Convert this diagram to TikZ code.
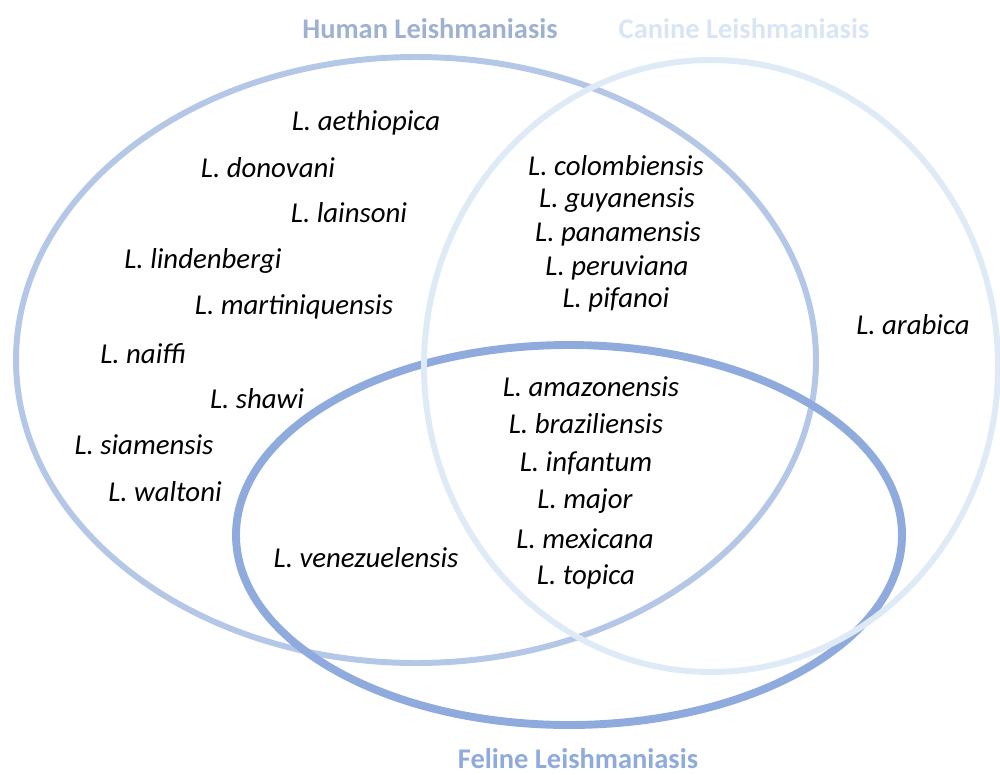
\documentclass[tikz,border=0pt]{standalone}
\usepackage{fontspec}
\setmainfont{Carlito}
\definecolor{humancol}{HTML}{B4C7E7}
\definecolor{caninecol}{HTML}{DEEBF7}
\definecolor{felinecol}{HTML}{8FAADC}
\begin{document}
\begin{tikzpicture}[x=0.02cm, y=-0.02cm, species/.style={font=\fontsize{16.4}{19}\selectfont\itshape,inner sep=0pt}, title/.style={font=\fontsize{16.2}{19}\selectfont\bfseries,inner sep=0pt}]
\useasboundingbox (0,0) rectangle (1000,774);
\begin{scope}
\draw[humancol, line width=3.4pt]  (416,360) ellipse [x radius=400, y radius=303];
\draw[felinecol, line width=4.5pt] (569,535) ellipse [x radius=333, y radius=190];
\draw[caninecol, line width=3.4pt] (711,366) ellipse [x radius=287, y radius=306];
\end{scope}
\begin{scope}
\node[title, text=humancol!90!black!80!felinecol] (human) at (430,29) {Human Leishmaniasis};
\node[title, text=caninecol!85!humancol] (canine) at (744,29) {Canine Leishmaniasis};
\node[title, text=felinecol] (feline) at (578,759) {Feline Leishmaniasis};
\end{scope}
\begin{scope}[every node/.style={species}]
% human only
\node (aeth) at (366,123) {L. aethiopica};
\node (dono) at (268,168) {L. donovani};
\node (lain) at (349,213) {L. lainsoni};
\node (lind) at (203,261) {L. lindenbergi};
\node (mart) at (294,307) {L. martiniquensis};
\node (naif) at (143,354) {L. naiffi};
\node (shaw) at (257,399) {L. shawi};
\node (siam) at (144,445) {L. siamensis};
\node (walt) at (165,492) {L. waltoni};
% human and canine
\node (colo) at (616,166) {L. colombiensis};
\node (guya) at (617,200) {L. guyanensis};
\node (pana) at (618,234) {L. panamensis};
\node (peru) at (617,268) {L. peruviana};
\node (pifa) at (616,300) {L. pifanoi};
% canine only
\node (arab) at (913,325) {L. arabica};
% all three
\node (amaz) at (591,387) {L. amazonensis};
\node (braz) at (586,424) {L. braziliensis};
\node (infa) at (586,463) {L. infantum};
\node (majo) at (585,501) {L. major};
\node (mexi) at (585,539) {L. mexicana};
\node (topi) at (586,577) {L. topica};
% human and feline
\node (vene) at (366,558) {L. venezuelensis};
\end{scope}
\end{tikzpicture}
\end{document}
